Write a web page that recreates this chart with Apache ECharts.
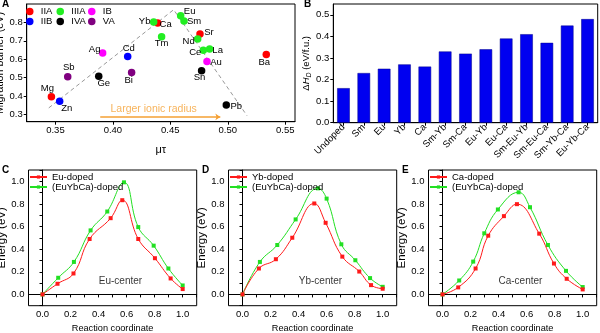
<!DOCTYPE html>
<html><head><meta charset="utf-8">
<script src="https://cdn.jsdelivr.net/npm/echarts@6/dist/echarts.min.js"></script>
<style>html,body{margin:0;padding:0;background:#fff}#c{width:600px;height:333px}</style>
</head><body><div id="c"></div>
<script>
// ---------- Panel A data ----------
const elemNames   = ['Mg','Zn','Sb','Ag','Ge','Cd','Bi','Yb','Ca','Tm','Eu','Sm','Sr','Nd','Ce','La','Au','Sn','Pb','Ba'];
const elemMuTau   = [0.3465,0.3537,0.3607,0.3911,0.3877,0.4129,0.4163,0.4355,0.4390,0.4424,0.4590,0.4619,0.4758,0.4738,0.4787,0.4842,0.4819,0.4772,0.4987,0.5335];
const elemBarrier = [0.395,0.371,0.505,0.634,0.507,0.615,0.528,0.802,0.797,0.722,0.836,0.808,0.737,0.710,0.648,0.655,0.588,0.537,0.351,0.626];
const elemGroup   = ['IIA','IIB','VA','IB','IVA','IIB','VA','IIIA','IIA','IIIA','IIIA','IIIA','IIA','IIIA','IIIA','IIIA','IB','IVA','IVA','IIA'];
const groupNames  = ['IIA','IIIA','IB','IIB','IVA','VA'];
const trendX = [0.3442, 0.4529, 0.5167];
const trendY = [0.335, 0.869, 0.293];
const arrowX = [0.389, 0.4935];
const arrowY = [0.286, 0.286];
const arrowText = 'Larger ionic radius';
const arrowTextPos = [0.4355, 0.326];
const aTicksX = [0.35, 0.40, 0.45, 0.50, 0.55];
const aTicksY = [0.3, 0.4, 0.5, 0.6, 0.7, 0.8];

// ---------- Panel B data ----------
const dopants = ['Undoped','Sm','Eu','Yb','Ca','Sm-Yb','Sm-Ca','Eu-Yb','Eu-Ca','Sm-Eu-Yb','Sm-Eu-Ca','Sm-Yb-Ca','Eu-Yb-Ca'];
const deltaH  = [0.16,0.23,0.25,0.27,0.26,0.33,0.32,0.34,0.39,0.41,0.37,0.45,0.48];
const bTicksY = [0, 0.1, 0.2, 0.3, 0.4, 0.5];

// ---------- Panels C, D, E data ----------
const cRedX = [0,0.107,0.221,0.336,0.486,0.569,0.683,0.802,0.914,1.0];
const cRedY = [0,0.094,0.185,0.490,0.674,0.833,0.490,0.320,0.141,0.047];
const cGrnX = [0,0.112,0.224,0.343,0.462,0.581,0.683,0.793,0.898,1.0];
const cGrnY = [0,0.147,0.287,0.566,0.733,0.991,0.595,0.431,0.229,0.079];
const dRedX = [0,0.117,0.238,0.355,0.512,0.593,0.712,0.833,0.917,1.0];
const dRedY = [0,0.229,0.311,0.501,0.804,0.633,0.334,0.202,0.082,0.050];
const dGrnX = [0,0.124,0.248,0.379,0.538,0.600,0.705,0.805,0.910,1.0];
const dGrnY = [0,0.287,0.437,0.663,0.938,0.847,0.443,0.302,0.144,0.067];
const eRedX = [0,0.112,0.236,0.326,0.438,0.531,0.690,0.795,0.886,1.0];
const eRedY = [0,0.062,0.229,0.519,0.692,0.798,0.537,0.273,0.138,0.044];
const eGrnX = [0,0.119,0.219,0.298,0.395,0.543,0.624,0.752,0.881,1.0];
const eGrnY = [0,0.123,0.290,0.540,0.751,0.903,0.771,0.437,0.208,0.065];
const panelCenters = ['Eu-center','Yb-center','Ca-center'];
const panelDopedNames = ['Eu-doped','Yb-doped','Ca-doped'];
const mixName = '(EuYbCa)-doped';
const centerTextPos = [0.556, 0.112];
const rcLabels = [0,0.2,0.4,0.6,0.8,1.0];
const rcTicks = [-0.1,0,0.1,0.2,0.3,0.4,0.5,0.6,0.7,0.8,0.9,1.0,1.1];

// ---------- styling ----------
const FONT = 'Liberation Sans';
const groupColors = {IIA:'#ff0000', IIIA:'#22ee22', IB:'#ff00ff', IIB:'#0000ff', IVA:'#000000', VA:'#800080'};
const labelOffsets = {
  Mg:[-4,-8], Zn:[7,7], Sb:[1,-9], Ag:[-8,-4], Ge:[5,7], Cd:[1,-8], Bi:[-3,8],
  Yb:[-9,-1], Ca:[8,1], Tm:[0,7], Eu:[9,-4], Sm:[10,0], Sr:[9,-2], Nd:[-9,2],
  Ce:[-8,2], La:[8,1], Au:[9,1], Sn:[-2,7], Pb:[10,1], Ba:[-2,8]
};
const legendPos = {IIA:[26,6.5], IIIA:[56.5,6.5], IB:[88,6.5], IIB:[26,16.5], IVA:[56.5,16.5], VA:[88,16.5]};
const RED = '#ff1a1a', GRN = '#22e022';

const chart = echarts.init(document.getElementById('c'), null, {renderer:'canvas'});

const baseAxisLabel = {color:'#000', fontFamily:FONT, fontSize:9.5, margin:4};
const baseAxisLine = {show:true, lineStyle:{color:'#000', width:1}};
const baseTick = {show:true, length:3, lineStyle:{color:'#000'}};

const grids = [
  {left:26.7, top:4, width:268.3, height:117.7},
  {left:333.3, top:4, width:264.4, height:118.7},
  {left:28.5, top:170, width:168.2, height:135.7},
  {left:228.5, top:170, width:168.2, height:135.7},
  {left:428.5, top:170, width:168.2, height:135.7}
].map(g => Object.assign({show:true, borderColor:'#000', borderWidth:1, containLabel:false, outerBoundsMode:'none'}, g));

const xAxes = [], yAxes = [], series = [], legends = [];

// Panel A axes
xAxes.push({gridIndex:0, type:'value', min:0.325, max:0.5585,
  name:'μτ', nameLocation:'middle', nameGap:23, nameTextStyle:{fontFamily:FONT, fontSize:11, color:'#000'},
  axisLine:baseAxisLine, axisTick:Object.assign({customValues:aTicksX}, baseTick),
  axisLabel:Object.assign({customValues:aTicksX, formatter:v=>v.toFixed(2)}, baseAxisLabel), splitLine:{show:false}});
yAxes.push({gridIndex:0, type:'value', min:0.26, max:0.9,
  name:'Migration barrier (eV)', nameLocation:'middle', nameGap:15, nameTextStyle:{fontFamily:FONT, fontSize:10.8, color:'#000'},
  axisLine:baseAxisLine, axisTick:Object.assign({customValues:aTicksY}, baseTick),
  axisLabel:Object.assign({customValues:aTicksY, formatter:v=>v.toFixed(1)}, baseAxisLabel), splitLine:{show:false}});

// trend dashed line
series.push({type:'line', xAxisIndex:0, yAxisIndex:0, data:trendX.map((x,i)=>[x,trendY[i]]),
  symbol:'none', silent:true, lineStyle:{color:'#999', width:1, type:[4,3]}, z:1});
// arrow
series.push({type:'lines', coordinateSystem:'cartesian2d', xAxisIndex:0, yAxisIndex:0,
  data:[{coords:[[arrowX[0],arrowY[0]],[arrowX[1],arrowY[1]]]}],
  symbol:['none','arrow'], symbolSize:5, lineStyle:{color:'#f5a033', width:1.5, opacity:1}, silent:true, z:2});
// arrow text
series.push({type:'scatter', xAxisIndex:0, yAxisIndex:0, data:[{name:arrowText, value:arrowTextPos}],
  symbolSize:0, silent:true, label:{show:true, position:'inside', formatter:'{b}', color:'#f5a033', fontFamily:FONT, fontSize:10.5}});
// groups
groupNames.forEach(g => {
  const data = [];
  elemNames.forEach((n,i) => {
    if (elemGroup[i] === g) data.push({name:n, value:[elemMuTau[i], elemBarrier[i]], label:{offset:labelOffsets[n]}});
  });
  series.push({type:'scatter', name:g, xAxisIndex:0, yAxisIndex:0, data, symbolSize:7.5,
    itemStyle:{color:groupColors[g], opacity:1}, z:5,
    label:{show:true, position:'inside', formatter:'{b}', color:'#000', fontFamily:FONT, fontSize:9.5}});
  legends.push({data:[g], left:legendPos[g][0], top:legendPos[g][1], icon:'circle', itemWidth:12, itemHeight:7.5,
    padding:0, selectedMode:false, textStyle:{fontFamily:FONT, fontSize:9.5, color:'#000'}});
});

// Panel B
xAxes.push({gridIndex:1, type:'category', data:dopants,
  axisLine:baseAxisLine, axisTick:{show:true, length:3, alignWithLabel:true, lineStyle:{color:'#000'}},
  axisLabel:Object.assign({}, baseAxisLabel, {rotate:45, interval:0, margin:3})});
yAxes.push({gridIndex:1, type:'value', min:0, max:0.55,
  name:'{n|Δ}{i|H}{s|D}{n| (eV/f.u.)}', nameLocation:'middle', nameGap:19,
  nameTextStyle:{fontFamily:FONT, fontSize:9.5, color:'#000',
    rich:{n:{fontFamily:FONT, fontSize:9.5, color:'#000', lineHeight:12, verticalAlign:'middle'},
          i:{fontFamily:FONT, fontSize:9.5, color:'#000', fontStyle:'italic', lineHeight:12, verticalAlign:'middle'},
          s:{fontFamily:FONT, fontSize:7, color:'#000', fontStyle:'italic', lineHeight:12, verticalAlign:'bottom'}}},
  axisLine:baseAxisLine, axisTick:Object.assign({customValues:bTicksY}, baseTick),
  axisLabel:Object.assign({customValues:bTicksY, formatter:v=>v.toFixed(1)}, baseAxisLabel), splitLine:{show:false}});
series.push({type:'bar', xAxisIndex:1, yAxisIndex:1, data:deltaH, barWidth:'62%',
  itemStyle:{color:'#0000f0', borderColor:'#00008a', borderWidth:0.5}});

// Panels C, D, E
const lineSets = [[cRedX,cRedY,cGrnX,cGrnY],[dRedX,dRedY,dGrnX,dGrnY],[eRedX,eRedY,eGrnX,eGrnY]];
lineSets.forEach((s, k) => {
  const gi = k + 2;
  xAxes.push({gridIndex:gi, type:'value', min:-0.1, max:1.1,
    name:'Reaction coordinate', nameLocation:'middle', nameGap:18, nameTextStyle:{fontFamily:FONT, fontSize:9.2, color:'#000'},
    axisLine:baseAxisLine, axisTick:Object.assign({customValues:rcTicks}, baseTick),
    axisLabel:Object.assign({customValues:rcLabels, formatter:v=>v.toFixed(1)}, baseAxisLabel), splitLine:{show:false}});
  yAxes.push({gridIndex:gi, type:'value', min:-0.1, max:1.1,
    name:'Energy (eV)', nameLocation:'middle', nameGap:15.5, nameTextStyle:{fontFamily:FONT, fontSize:11.5, color:'#000'},
    axisLine:baseAxisLine, axisTick:Object.assign({customValues:rcTicks}, baseTick),
    axisLabel:Object.assign({customValues:rcLabels, formatter:v=>v.toFixed(1)}, baseAxisLabel), splitLine:{show:false}});
  const redName = panelDopedNames[k];
  const mixId = mixName + ' '.repeat(k);
  series.push({type:'line', name:redName, xAxisIndex:gi, yAxisIndex:gi, data:s[0].map((x,i)=>[x,s[1][i]]),
    smooth:0.45, symbol:'rect', symbolSize:4, showAllSymbol:true,
    lineStyle:{color:RED, width:1}, itemStyle:{color:RED}, z:4});
  series.push({type:'line', name:mixId, xAxisIndex:gi, yAxisIndex:gi, data:s[2].map((x,i)=>[x,s[3][i]]),
    smooth:0.45, symbol:'rect', symbolSize:4, showAllSymbol:true,
    lineStyle:{color:GRN, width:1}, itemStyle:{color:GRN}, z:3});
  series.push({type:'scatter', xAxisIndex:gi, yAxisIndex:gi, data:[{name:panelCenters[k], value:centerTextPos}],
    symbolSize:0, silent:true, label:{show:true, position:'inside', formatter:'{b}', color:'#000', fontFamily:FONT, fontSize:10}});
  legends.push({data:[redName, mixId], orient:'vertical', left:29 + 200*k, top:172, itemWidth:17, itemHeight:4,
    itemGap:0, padding:0, selectedMode:false, formatter:n=>n.trim(),
    textStyle:{fontFamily:FONT, fontSize:9.5, color:'#000', lineHeight:10}});
});

const letters = [['A',2,-1],['B',304,-1],['C',2,165],['D',202,165],['E',402,165]];
const titles = letters.map(l => ({text:l[0], left:l[1], top:l[2], padding:0,
  textStyle:{fontFamily:FONT, fontSize:10, fontWeight:'bold', color:'#000'}}));

chart.setOption({
  animation:false,
  backgroundColor:'#fff',
  textStyle:{fontFamily:FONT},
  title:titles,
  grid:grids,
  xAxis:xAxes,
  yAxis:yAxes,
  legend:legends,
  series
});
</script></body></html>
